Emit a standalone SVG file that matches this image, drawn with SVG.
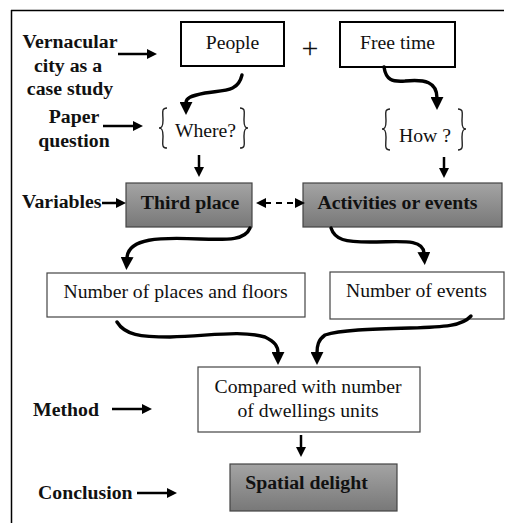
<svg xmlns="http://www.w3.org/2000/svg" width="508" height="523" viewBox="0 0 508 523" font-family="'Liberation Serif', 'Times New Roman', 'DejaVu Serif', serif">
<style>
text{font-family:'Liberation Serif','Times New Roman','DejaVu Serif',serif;fill:#111}
.r{font-size:19.7px}
.b{font-size:19.8px;font-weight:bold}
.box{fill:#fff;stroke:#000;stroke-width:2}
.tbox{fill:#fff;stroke:#444;stroke-width:1.2}
.gbox{fill:url(#gg);stroke:#444;stroke-width:1.2}
.curve{fill:none;stroke:#000;stroke-width:3.4;stroke-linecap:round;marker-end:url(#ah)}
.st{fill:none;stroke:#000;stroke-width:2.5;marker-end:url(#sh)}
.brace{fill:none;stroke:#222;stroke-width:1.4}
</style>
<defs>
<linearGradient id="gg" x1="0" y1="0" x2="0" y2="1">
<stop offset="0" stop-color="#a4a4a4"/>
<stop offset="1" stop-color="#787878"/>
</linearGradient>
<marker id="ah" viewBox="0 0 12 12" markerWidth="13" markerHeight="13" markerUnits="userSpaceOnUse" refX="1" refY="6" orient="auto">
<path d="M0,0 L12,6 L0,12 z" fill="#000"/>
</marker>
<marker id="sh" viewBox="0 0 10 10" markerWidth="10" markerHeight="10" markerUnits="userSpaceOnUse" refX="1" refY="5" orient="auto-start-reverse">
<path d="M0,0 L10,5 L0,10 z" fill="#000"/>
</marker>
</defs>

<g id="frame">
<line x1="11" y1="10.5" x2="504" y2="10.5" stroke="#000" stroke-width="1.5"/>
<line x1="11.5" y1="10" x2="11.5" y2="523" stroke="#000" stroke-width="1.5"/>
</g>

<g id="label-vernacular">
<text class="b" x="70" y="48" text-anchor="middle">Vernacular</text>
<text class="b" x="68" y="72" text-anchor="middle">city as a</text>
<text class="b" x="70" y="95" text-anchor="middle">case study</text>
</g>
<g id="label-paper">
<text class="b" x="74" y="123" text-anchor="middle">Paper</text>
<text class="b" x="74" y="147" text-anchor="middle">question</text>
</g>
<g id="label-variables"><text class="b" x="22" y="208">Variables</text></g>
<g id="label-method"><text class="b" x="33" y="416">Method</text></g>
<g id="label-conclusion"><text class="b" x="38" y="499">Conclusion</text></g>

<g id="people">
<rect class="box" x="181" y="22" width="103" height="44"/>
<text class="r" x="232.5" y="49" text-anchor="middle">People</text>
</g>
<g id="plus"><text x="310" y="58" text-anchor="middle" style="font-size:30px">+</text></g>
<g id="freetime">
<rect class="box" x="340" y="22" width="115" height="45"/>
<text class="r" x="397.5" y="49" text-anchor="middle">Free time</text>
</g>

<g id="where">
<path class="brace" d="M167,108 C161,108 163,113 163,120 C163,126 162,128 159,128 C162,128 163,130 163,136 C163,143 161,148 167,148"/>
<text class="r" x="205.5" y="137" text-anchor="middle">Where?</text>
<path class="brace" d="M240,108 C246,108 244,113 244,120 C244,126 245,128 248,128 C245,128 244,130 244,136 C244,143 246,148 240,148"/>
</g>
<g id="how">
<path class="brace" d="M390,109 C384,109 386,114 386,121 C386,127 385,129 382,129 C385,129 386,131 386,137 C386,145 384,150 390,150"/>
<text class="r" x="425" y="142" text-anchor="middle">How ?</text>
<path class="brace" d="M458,109 C464,109 462,114 462,121 C462,127 463,129 466,129 C463,129 462,131 462,137 C462,145 464,150 458,150"/>
</g>

<g id="thirdplace">
<rect class="gbox" x="126" y="183" width="126" height="44"/>
<text class="b" x="190" y="209" text-anchor="middle">Third place</text>
</g>
<g id="activities">
<rect class="gbox" x="303" y="183" width="199" height="44"/>
<text class="b" x="397.5" y="209" text-anchor="middle">Activities or events</text>
</g>
<g id="numplaces">
<rect class="tbox" x="47" y="273" width="258" height="44"/>
<text class="r" x="175.5" y="298" text-anchor="middle">Number of places and floors</text>
</g>
<g id="numevents">
<rect class="tbox" x="330" y="272" width="174" height="47"/>
<text class="r" x="416.5" y="297" text-anchor="middle">Number of events</text>
</g>
<g id="compared">
<rect class="tbox" x="198" y="367" width="222" height="65"/>
<text class="r" x="308" y="393" text-anchor="middle">Compared with number</text>
<text class="r" x="308" y="417" text-anchor="middle">of dwellings units</text>
</g>
<g id="spatial">
<rect class="gbox" x="230" y="464" width="167" height="47"/>
<text class="b" x="306.5" y="489" text-anchor="middle">Spatial delight</text>
</g>

<g id="connectors">
<line class="st" x1="118" y1="54" x2="148" y2="54"/>
<line class="st" x1="103" y1="126" x2="134" y2="126"/>
<line class="st" x1="102" y1="203" x2="117" y2="203"/>
<line class="st" x1="112" y1="409" x2="143" y2="409"/>
<line class="st" x1="137" y1="493" x2="168" y2="493"/>
<line class="st" x1="199" y1="155" x2="199" y2="168"/>
<line class="st" x1="444" y1="157" x2="444" y2="169"/>
<line class="st" x1="301" y1="435" x2="301" y2="448"/>
<line x1="265" y1="203" x2="296" y2="203" stroke="#000" stroke-width="2" stroke-dasharray="6,5" marker-start="url(#sh)" marker-end="url(#sh)"/>
<path class="curve" d="M242,75 C238,92 225,90 205,93 C190,96 186,98 186,103"/>
<path class="curve" d="M384,67 C386,80 392,82 405,81 C425,79 437,82 437,98"/>
<path class="curve" d="M250,228 C245,240 230,240 200,239 C160,237 128,238 127,258"/>
<path class="curve" d="M331,228 C335,240 345,242 370,242 C400,242 423,238 424,253"/>
<path class="curve" d="M117,322 C125,335 140,337 170,337 C210,336 240,330 265,337 C275,342 278,346 278,353"/>
<path class="curve" d="M471,316 C462,326 445,327 410,328 C370,329 340,330 325,335 C318,340 317,346 317,353"/>
</g>
</svg>
